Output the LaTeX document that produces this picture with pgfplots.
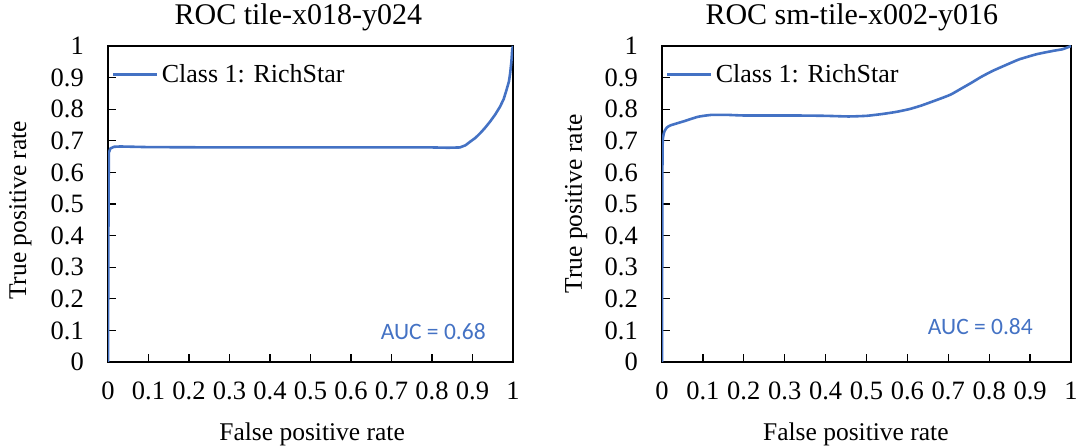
\documentclass[border=0pt]{standalone}
\usepackage{pgfplots}
\pgfplotsset{compat=1.18}
\usepackage{fontspec}
\setmainfont{Liberation Serif}
\newfontfamily\calibri{Carlito}
\definecolor{roc}{HTML}{4472C4}

\pgfplotstableread{
x y
0 0
0.001 0.40
0.002 0.662
0.006 0.676
0.015 0.681
0.03 0.682
0.1 0.680
0.3 0.679
0.5 0.679
0.7 0.679
0.8 0.679
0.84 0.678
0.869 0.679
0.883 0.686
0.894 0.697
0.907 0.709
0.919 0.724
0.931 0.741
0.943 0.760
0.956 0.783
0.968 0.808
0.977 0.832
0.984 0.861
0.990 0.888
0.993 0.914
0.996 0.950
0.998 0.987
1 1
}\leftroc

\pgfplotstableread{
x y
0 0
0.001 0.60
0.002 0.704
0.006 0.730
0.012 0.742
0.021 0.749
0.054 0.762
0.088 0.776
0.121 0.782
0.16 0.782
0.205 0.780
0.33 0.780
0.40 0.779
0.456 0.777
0.50 0.779
0.54 0.785
0.575 0.792
0.607 0.801
0.635 0.812
0.665 0.826
0.69 0.838
0.707 0.847
0.73 0.864
0.757 0.884
0.78 0.902
0.808 0.921
0.85 0.945
0.874 0.958
0.916 0.974
0.958 0.985
0.98 0.990
1 1
}\rightroc

\newcommand\tickfont{\fontsize{26.5bp}{26.5bp}\selectfont}
\pgfplotsset{
  rocaxis/.style={
    scale only axis,
    xmin=0, xmax=1, ymin=0, ymax=1,
    xtick={0,0.1,...,1.01}, ytick={0,0.1,...,1.01},
    tick align=inside, xtick pos=lower, ytick pos=left,
    major tick length=8bp,
    axis line style={line width=1.3bp, black},
    every tick/.style={line width=1.3bp, black},
    /pgf/number format/assume math mode=true,
    /pgf/number format/fixed,
    /pgf/number format/precision=1,
    xticklabel style={font=\tickfont, inner sep=0pt, anchor=base, yshift=-38bp},
    yticklabel style={font=\tickfont, inner sep=0pt, anchor=east, xshift=-24bp},
    label style={font=\fontsize{25.5bp}{25.5bp}\selectfont},
    title style={font=\fontsize{30bp}{30bp}\selectfont, anchor=base, inner sep=0pt},
    legend style={draw=none, fill=none, anchor=west, inner sep=0pt,
      font=\fontsize{26bp}{26bp}\selectfont, nodes={inner sep=0pt}},
    legend cell align=left,
    legend image code/.code={\draw[##1, line width=2.6bp] (3.5bp,0) -- (47bp,0); \path (0bp,0) (51bp,0);},
  }
}

\begin{document}
\begin{tikzpicture}
\useasboundingbox (0,0) rectangle (1077bp,446bp);
\begin{axis}[rocaxis,
  at={(108bp,84bp)}, anchor=south west, width=405bp, height=316bp,
  title={ROC tile-x018-y024},
  title style={at={(axis description cs:0.47,1.05)}},
  xlabel={False positive rate},
  xlabel style={at={(axis description cs:0.504,-0.247)}, anchor=base, inner sep=0pt},
  ylabel={True positive rate},
  ylabel style={at={(axis description cs:-0.216,0.48)}, anchor=center, inner sep=0pt},
  legend style={at={(axis description cs:0,0.91)}},
]
\addplot[color=roc, line width=2.6bp, line join=round] table[x=x, y=y] {\leftroc};
\addlegendentry{Class 1: RichStar}
\node[anchor=east, inner sep=0pt, text=roc, font=\calibri\fontsize{23.5bp}{23.5bp}\selectfont] at (axis description cs:0.933,0.095) {AUC = 0.68};
\end{axis}
\begin{axis}[rocaxis,
  at={(662bp,84bp)}, anchor=south west, width=409bp, height=316bp,
  title={ROC sm-tile-x002-y016},
  title style={at={(axis description cs:0.464,1.05)}},
  xlabel={False positive rate},
  xlabel style={at={(axis description cs:0.474,-0.247)}, anchor=base, inner sep=0pt},
  ylabel={True positive rate},
  ylabel style={at={(axis description cs:-0.210,0.50)}, anchor=center, inner sep=0pt},
  legend style={at={(axis description cs:0,0.91)}},
]
\addplot[color=roc, line width=2.6bp, line join=round, smooth, tension=0.3] table[x=x, y=y] {\rightroc};
\addlegendentry{Class 1: RichStar}
\node[anchor=east, inner sep=0pt, text=roc, font=\calibri\fontsize{23.5bp}{23.5bp}\selectfont] at (axis description cs:0.907,0.111) {AUC = 0.84};
\end{axis}
\end{tikzpicture}
\end{document}
